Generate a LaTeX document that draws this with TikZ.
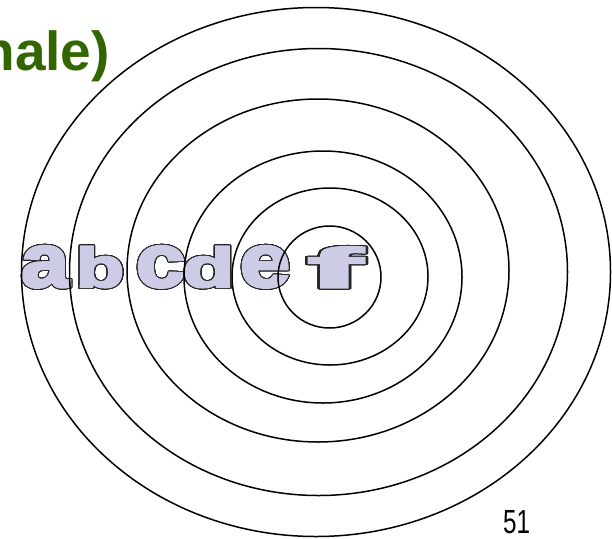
\documentclass[tikz,border=0pt]{standalone}
\usepackage{fontspec}
\setmainfont{Liberation Sans}
\newfontfamily\heavyfont{Liberation Sans Bold}[FakeBold=4]
\usepackage{graphicx}
\usepackage[copies]{contour}
\contourlength{0.85pt}
\contournumber{48}
\definecolor{titlegreen}{RGB}{51,102,0}
\definecolor{lav}{RGB}{204,204,230}
\newcommand{\wlet}[4]{\resizebox{#1pt}{#2pt}{\fontsize{#3}{#3}\heavyfont\textcolor{lav}{\contour{black!85}{#4}}}}
\begin{document}
\begin{tikzpicture}[x=1pt,y=-1pt,
  ring/.style={draw=black,line width=1.5pt},
  letter/.style={inner sep=0pt,anchor=south}]
\useasboundingbox (0,0) rectangle (612,538);
\clip (0,0) rectangle (612,538);
\node[anchor=base east,inner sep=0pt,font=\fontsize{55}{60}\selectfont\bfseries,text=titlegreen] (title) at (110,70) {nale)};
% letters
\node[letter] (la) at (45,288.5) {\wlet{48}{40.5}{76}{a}};
\node[letter] (lb) at (100,288.5) {\wlet{48}{40.5}{56}{b}};
\node[letter] (lc) at (160.5,288.5) {\wlet{49}{40.5}{76}{c}};
\node[letter] (ld) at (208.5,288.5) {\wlet{51}{40.5}{56}{d}};
\node[letter] (le) at (265,288.5) {\wlet{50}{40.5}{76}{e}};
\node[letter] (lf) at (335,288.5) {\wlet{54}{40.5}{56}{f}};
% rings
\draw[ring] (316,272) ellipse [x radius=294.5,y radius=264.5];
\draw[ring] (318.5,272) ellipse [x radius=249,y radius=223.5];
\draw[ring] (318,270.5) ellipse [x radius=191,y radius=171.5];
\draw[ring] (323,277) ellipse [x radius=139,y radius=126];
\draw[ring] (330,276.5) ellipse [x radius=98,y radius=88.5];
\draw[ring] (329.5,277) ellipse [x radius=51.5,y radius=51];
% page number
\node[anchor=base,inner sep=0pt] (num) at (516.5,533) {\resizebox{27pt}{23pt}{51}};
\end{tikzpicture}
\end{document}
